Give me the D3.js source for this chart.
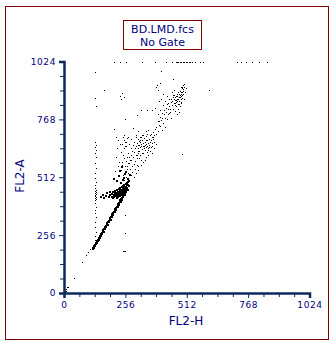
<!DOCTYPE html>
<html>
<head>
<meta charset="utf-8">
<style>
  body { margin: 0; background: #fff; }
  svg { display: block; font-family: "DejaVu Sans", Verdana, sans-serif; }
</style>
</head>
<body>
<div id="chart"></div>
<script src="https://d3js.org/d3.v7.min.js"></script>
<script>
// FL2-H / FL2-A values (channel units 0..1024)
const topEdge = [
  [208,1023],[233,1023],[258,1023],[324,1023],[379,1023],[424,1023],[449,1023],[466,1023],
  [470,1023],[476,1023],[483,1023],[489,1023],[495,1023],[501,1023],[508,1023],[514,1023],
  [520,1023],[527,1023],[533,1023],[545,1023],[566,1023],[578,1023],[720,1023],[740,1023],
  [761,1023],[786,1023],[815,1023],[845,1023]
];

const verticalStreak = [
  [131,977],[130,862],[132,826],[131,667],[133,654],[130,645],[132,632],[131,619],[133,601],
  [130,575],[132,553],[131,530],[130,508],[133,491],[131,477],[130,464],[132,455],[131,451],
  [133,446],[130,442],[132,438],[131,433],[130,429],[133,424],[131,420],[132,415],[130,411],
  [131,398],[132,380],[131,367],[130,354],[132,336],[131,314],[130,292],[132,270],[131,252],
  [130,234],[131,217]
];

const diagonal = [
  [115,198],[118,203],[120,207],[122,211],[124,214],[126,218],[128,222],[130,226],[132,229],
  [134,233],[136,237],[138,241],[140,244],[142,248],[145,254],[147,257],[150,263],[152,267],
  [155,272],[158,278],[160,282],[163,287],[166,293],[168,297],[171,302],[174,308],[177,313],
  [180,319],[183,325],[186,330],[189,336],[192,342],[195,347],[198,353],[201,358],[204,364],
  [207,370],[210,375],[213,381],[216,386],[219,392],[222,398],[225,403],[228,409],[231,415],
  [234,420],[237,426],[240,431],[243,437],[246,442],[249,448],[252,454],[255,459],[258,465],
  [121,205],[125,212],[129,219],[133,226],[137,233],[141,240],[146,249],[151,258],[156,267],
  [161,276],[167,287],[172,296],[178,307],[184,318],[190,329],[196,340],[202,351],[208,362],
  [214,373],[220,384],[226,395],[232,406],[238,417],[244,428],[250,439],[256,450],[262,460]
];

const lowerBlob = [
  [150,430],[158,438],[163,425],[170,433],[176,446],[182,428],[186,440],[188,451],
  [195,430],[198,442],[200,425],[202,450],[204,436],[206,428],[208,445],[210,455],[211,432],
  [213,440],[215,448],[216,425],[218,460],[219,436],[220,444],[222,452],[223,430],[224,466],
  [225,440],[227,447],[228,455],[229,434],[230,470],[231,442],[233,450],[234,460],[235,438],
  [236,475],[238,446],[239,455],[240,465],[241,440],[243,478],[244,450],[245,460],[246,470],
  [248,482],[249,455],[250,465],[251,475],[253,486],[254,462],[255,472],[257,480],[258,490],
  [260,470],[262,484],[264,494],[266,478],[268,500],
  [215,500],[225,520],[232,490],[240,505],[250,530],[245,515],[255,540],[263,510],[270,525],
  [228,545],[205,510],[236,560]
];

const midCluster = [
  [242,505],[248,520],[252,498],[256,540],[260,512],[262,560],[266,530],[270,495],[272,575],
  [275,548],[278,520],[280,590],[283,560],[285,535],[288,600],[290,570],[292,515],[295,585],
  [297,550],[299,610],[300,530],[303,595],[305,565],[308,620],[310,545],[240,580],[245,610],
  [250,640],[236,622],[258,650],[262,600],[268,620],[255,670],[265,690],[272,660],[278,640],
  [285,630],[248,690],[252,700],
  [300,650],[305,665],[308,640],[310,680],[312,655],[314,630],[316,670],[318,645],[320,690],
  [322,660],[324,635],[326,675],[328,650],[330,665],[332,640],[334,685],[336,655],[338,670],
  [340,645],[342,660],[344,695],[346,650],[348,675],[350,640],[352,662],[354,680],[356,655],
  [358,700],[360,670],[362,648],[365,690],[368,665],[370,710],[372,680],[375,700],[380,725],
  [318,610],[330,620],[345,625],[360,630],[325,700],[340,715],[352,720],[300,700],[310,715],
  [330,580],[340,600],[350,610],[365,620],[375,640],[385,660],[320,565],[310,560],
  [215,600],[222,640],[228,580],[232,660],[218,690],[226,560],[212,540],[230,520],[238,545],
  [244,565],[244,660],[250,675],[256,650],[262,685],[247,690],[258,668],
  [303,612],[309,628],[313,672],[317,688],[321,652],[327,618],[331,698],[337,632],[343,678],
  [347,702],[353,648],[357,668],[363,676],[367,652],[371,690],[377,668],[333,652],[319,676],
  [307,655],[297,640],[291,622],[287,655],[281,610],[277,588],[271,602],[267,575],[263,548],
  [259,585],[253,560],[249,595],[281,680],[293,668],[299,688],[311,598],[323,590],[337,588],
  [349,632],[361,705],[384,702],[392,718]
];

const upperCluster = [
  [385,735],[390,760],[395,745],[400,780],[402,810],[405,765],[410,795],[412,830],[415,750],
  [418,810],[420,775],[422,850],[425,800],[428,770],[430,835],[432,815],[435,790],[438,860],
  [440,825],[442,800],[445,845],[448,775],[450,830],[400,740],[410,720],[420,735],[390,790],
  [380,820],[395,850],[405,860],[430,870],[415,880],[392,900],[400,930],
  [452,850],[455,865],[458,840],[460,875],[462,855],[464,830],[466,870],[468,845],[470,880],
  [472,860],[474,835],[476,890],[478,865],[480,850],[482,875],[484,895],[486,860],[488,880],
  [490,870],[492,890],[494,905],[496,880],[498,895],[500,910],[475,815],[485,825],[465,805],
  [455,815],[470,790],[480,800],[490,840],[500,860],[505,890],[508,905],[502,925],[495,920],
  [488,910],[460,900],[450,890],
  [457,858],[463,868],[467,852],[471,872],[477,858],[483,866],[487,888],[491,878],[497,902],
  [473,848],[479,882],[493,862],[461,842],[469,826],[481,838],[444,812],[436,798],[426,820],
  [417,790],[408,772],[398,760],[433,842],[447,858],[453,878],[486,846]
];

const strays = [
  [494,614],[604,897],[406,983],[455,946],[494,909],[168,897],[209,725],[234,871],[237,857],
  [244,883],[251,868],[254,768],[288,731],[306,787],[323,809],[347,809],[369,809],[383,909],
  [386,919],[226,676],[254,264],[251,187],[256,187],[248,187],[255,345],
  [0,0],[2,5],[3,3],[6,10],[8,8],[10,18],[14,26],[17,27],[42,66],[75,137],[91,168],[100,181],[108,194]
];

const tickValues = [0, 256, 512, 768, 1024];
const minorTicks = [64, 128, 192, 320, 384, 448, 576, 640, 704, 832, 896, 960];

const W = 335, H = 347;
const frameColor = '#800000';
const axisColor = '#0c2a5c';
const textColor = '#000080';

const svg = d3.select('#chart').append('svg')
  .attr('width', W)
  .attr('height', H);

// outer frame
svg.append('rect')
  .attr('x', 5.5).attr('y', 6.5)
  .attr('width', 323).attr('height', 333)
  .attr('fill', 'none')
  .attr('stroke', frameColor);

// title box
svg.append('rect')
  .attr('x', 123.5).attr('y', 20.5)
  .attr('width', 78).attr('height', 29)
  .attr('fill', 'none')
  .attr('stroke', frameColor);

svg.append('text')
  .attr('x', 162.5).attr('y', 33)
  .attr('text-anchor', 'middle')
  .attr('font-size', 11)
  .attr('fill', textColor)
  .text('BD.LMD.fcs');

svg.append('text')
  .attr('x', 162.5).attr('y', 45.5)
  .attr('text-anchor', 'middle')
  .attr('font-size', 11)
  .attr('fill', textColor)
  .text('No Gate');

const x = d3.scaleLinear().domain([0, 1024]).range([64, 309.5]);
const y = d3.scaleLinear().domain([0, 1024]).range([293, 61.5]);

// dots
const plot = svg.append('g').attr('shape-rendering', 'crispEdges');
function drawDots(data, size) {
  plot.selectAll(null)
    .data(data)
    .enter()
    .append('rect')
    .attr('x', (d) => Math.round(x(d[0])))
    .attr('y', (d) => Math.round(y(d[1])))
    .attr('width', size)
    .attr('height', size)
    .attr('fill', '#000');
}
drawDots(topEdge, 1);
drawDots(verticalStreak, 1);
drawDots(diagonal, 2);
drawDots(lowerBlob, 2);
drawDots(midCluster, 1);
drawDots(upperCluster, 1);
drawDots(strays, 1);

const fmt = d3.format('d');

// x axis
const xAxis = svg.append('g')
  .attr('transform', 'translate(0,293)')
  .call(d3.axisBottom(x).tickValues(tickValues).tickFormat(fmt).tickSize(5).tickPadding(4));
const xMinor = svg.append('g')
  .attr('transform', 'translate(0,293)')
  .call(d3.axisBottom(x).tickValues(minorTicks).tickSize(4).tickFormat(''));

// y axis
const yAxis = svg.append('g')
  .attr('transform', 'translate(64,0)')
  .call(d3.axisLeft(y).tickValues(tickValues).tickFormat(fmt).tickSize(5).tickPadding(3));
const yMinor = svg.append('g')
  .attr('transform', 'translate(64,0)')
  .call(d3.axisLeft(y).tickValues(minorTicks).tickSize(4).tickFormat(''));

[xAxis, xMinor, yAxis, yMinor].forEach((g) => {
  g.select('.domain').attr('stroke', axisColor).attr('stroke-width', 2.5);
  g.selectAll('.tick line').attr('stroke', axisColor);
  g.selectAll('.tick text')
    .attr('fill', textColor)
    .attr('font-size', 9)
    .attr('letter-spacing', 0.6)
    .attr('font-family', '"DejaVu Sans", Verdana, sans-serif');
});
xMinor.select('.domain').remove();
yMinor.select('.domain').remove();

// axis titles
svg.append('text')
  .attr('x', 186).attr('y', 325)
  .attr('text-anchor', 'middle')
  .attr('font-size', 12)
  .attr('fill', textColor)
  .text('FL2-H');

svg.append('text')
  .attr('transform', 'translate(24,176) rotate(-90)')
  .attr('text-anchor', 'middle')
  .attr('font-size', 12)
  .attr('fill', textColor)
  .text('FL2-A');
</script>
</body>
</html>
